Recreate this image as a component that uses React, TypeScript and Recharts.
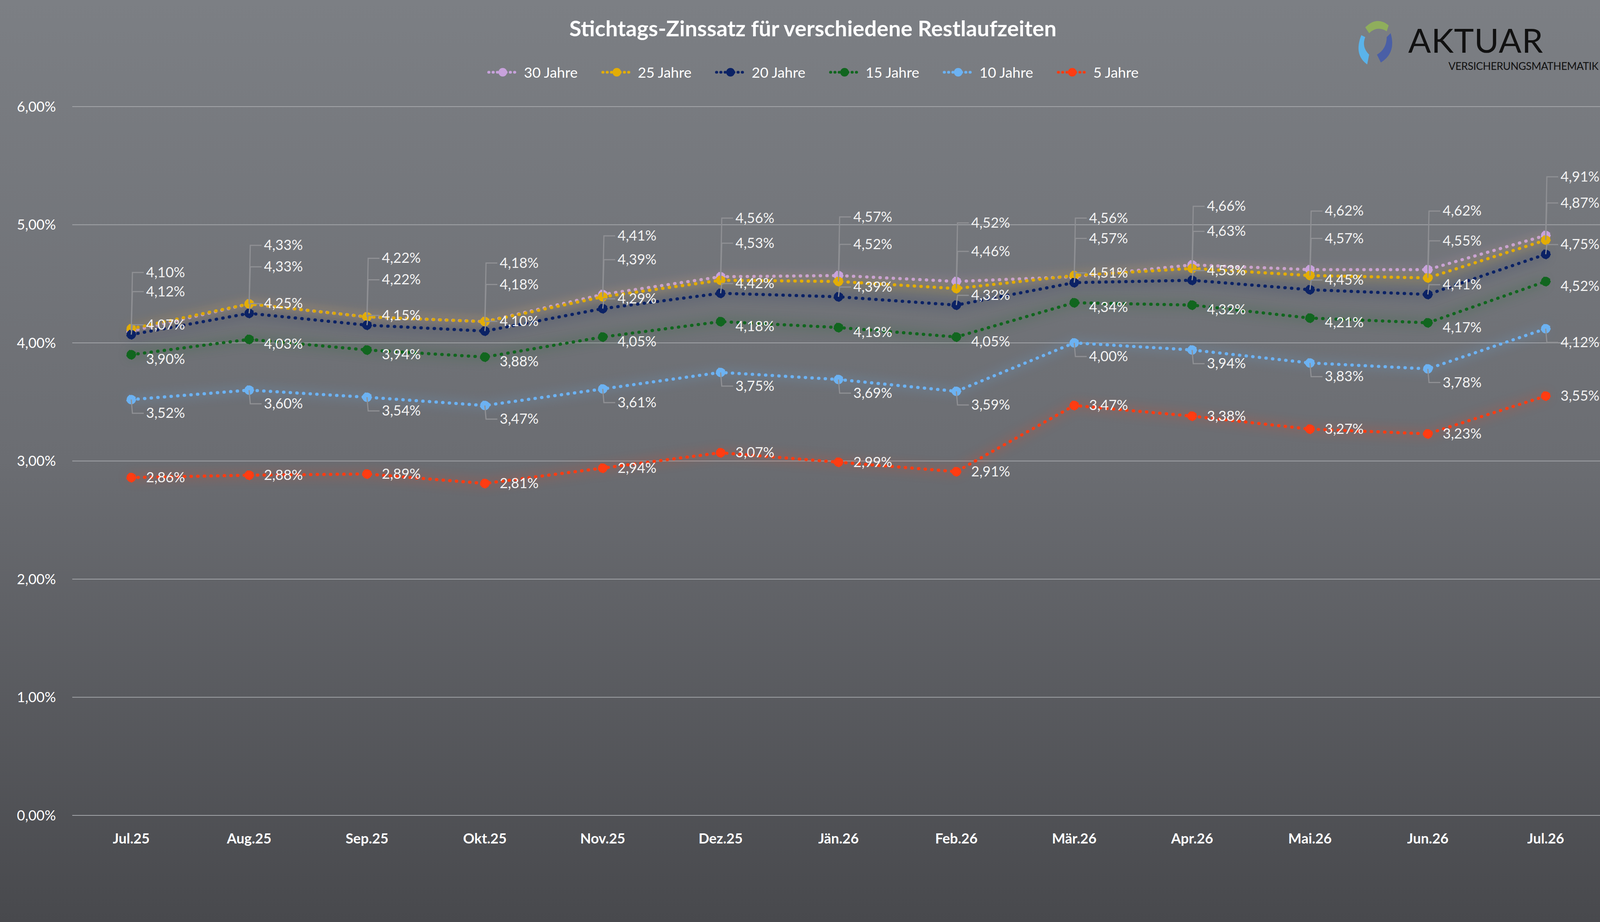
import React from 'react';
import { LineChart, Line, XAxis, YAxis, CartesianGrid } from 'recharts';

const months = ['Jul.25', 'Aug.25', 'Sep.25', 'Okt.25', 'Nov.25', 'Dez.25', 'Jän.26', 'Feb.26', 'Mär.26', 'Apr.26', 'Mai.26', 'Jun.26', 'Jul.26'];
const j30 = [4.10, 4.33, 4.22, 4.18, 4.41, 4.56, 4.57, 4.52, 4.56, 4.66, 4.62, 4.62, 4.91];
const j25 = [4.12, 4.33, 4.22, 4.18, 4.39, 4.53, 4.52, 4.46, 4.57, 4.63, 4.57, 4.55, 4.87];
const j20 = [4.07, 4.25, 4.15, 4.10, 4.29, 4.42, 4.39, 4.32, 4.51, 4.53, 4.45, 4.41, 4.75];
const j15 = [3.90, 4.03, 3.94, 3.88, 4.05, 4.18, 4.13, 4.05, 4.34, 4.32, 4.21, 4.17, 4.52];
const j10 = [3.52, 3.60, 3.54, 3.47, 3.61, 3.75, 3.69, 3.59, 4.00, 3.94, 3.83, 3.78, 4.12];
const j5 = [2.86, 2.88, 2.89, 2.81, 2.94, 3.07, 2.99, 2.91, 3.47, 3.38, 3.27, 3.23, 3.55];
const yTicks = [0, 1, 2, 3, 4, 5, 6];

const series = [
  { key: 'j30', name: '30 Jahre', values: j30, color: '#c8a2dc', dy: -150 },
  { key: 'j25', name: '25 Jahre', values: j25, color: '#e3ad05', dy: -95 },
  { key: 'j20', name: '20 Jahre', values: j20, color: '#0b2265', dy: -25 },
  { key: 'j15', name: '15 Jahre', values: j15, color: '#11661f', dy: 12 },
  { key: 'j10', name: '10 Jahre', values: j10, color: '#6cb2f2', dy: 35 },
  { key: 'j5', name: '5 Jahre', values: j5, color: '#ff3c12', dy: 0 },
];

const data = months.map((m, i) => {
  const row: Record<string, string | number> = { month: m };
  series.forEach((s) => (row[s.key] = s.values[i]));
  return row;
});

const fmt = (v: number) => v.toFixed(2).replace('.', ',') + '%';

const makeLabel = (dy: number) => (props: any) => {
  const { x, y, value } = props;
  const ty = y + dy;
  return (
    <g>
      {Math.abs(dy) > 20 && (
        <polyline points={`${x},${y} ${x + 3},${ty} ${x + 32},${ty}`} fill="none" stroke="#8f9094" strokeWidth={3} />
      )}
      <text x={x + 38} y={ty} dy={12} fill="#f2f2f2" fontSize={36} fontFamily="Lato, sans-serif">
        {fmt(value)}
      </text>
    </g>
  );
};

export default function App() {
  return (
    <div
      style={{
        position: 'relative',
        width: 4162,
        height: 2361,
        overflow: 'hidden',
        background: 'linear-gradient(#7c7f84, #6b6d72 50%, #48494d)',
        fontFamily: 'Lato, sans-serif',
      }}
    >
      <style>
        {'body{margin:0;overflow:hidden}\n' +
          series.map((s) => `.glow-${s.key} path{filter:drop-shadow(0 0 14px ${s.color});}`).join('\n')}
      </style>
      <div style={{ position: 'absolute', top: 38, width: '100%', textAlign: 'center', color: '#fff', fontSize: 56, fontWeight: 700 }}>
        Stichtags-Zinssatz für verschiedene Restlaufzeiten
      </div>
      <div style={{ position: 'absolute', top: 162, width: '100%', display: 'flex', justifyContent: 'center', gap: 60, color: '#fff', fontSize: 37 }}>
        {series.map((s) => (
          <div key={s.key} style={{ display: 'flex', alignItems: 'center', gap: 14 }}>
            <svg width={80} height={30}>
              <line x1={4} y1={15} x2={76} y2={15} stroke={s.color} strokeWidth={7} strokeDasharray="1 10" strokeLinecap="round" />
              <circle cx={40} cy={15} r={11} fill={s.color} />
            </svg>
            {s.name}
          </div>
        ))}
      </div>
      <div style={{ position: 'absolute', left: 3455, top: 40 }}>
        <svg width={130} height={140}>
          <path d="M40 30 Q70 0 100 25 L95 40 Q70 25 50 45 Z" fill="#8fae5c" />
          <path d="M30 50 Q10 100 45 125 L50 100 Q30 80 40 55 Z" fill="#5ab3ea" />
          <path d="M105 45 Q120 95 80 120 L70 100 Q95 85 95 55 Z" fill="#4a5fa6" />
        </svg>
      </div>
      <div style={{ position: 'absolute', left: 3605, top: 50, fontSize: 86, color: '#111', letterSpacing: 1 }}>AKTUAR</div>
      <div style={{ position: 'absolute', left: 3708, top: 152, fontSize: 27, color: '#111', letterSpacing: -0.5 }}>VERSICHERUNGSMATHEMATIK</div>
      <div style={{ position: 'absolute', left: 0, top: 0 }}>
        <LineChart width={4162} height={2361} data={data} margin={{ top: 273, right: 42, bottom: 243, left: 0 }}>
          <CartesianGrid vertical={false} stroke="#a3a5a9" strokeWidth={2} />
          <XAxis
            dataKey="month"
            axisLine={false}
            tickLine={false}
            padding={{ left: 151, right: 163 }}
            tick={{ fill: '#fff', fontSize: 36, fontWeight: 700, fontFamily: 'Lato, sans-serif' }}
            tickMargin={40}
          />
          <YAxis
            domain={[0, 6]}
            ticks={yTicks}
            width={185}
            axisLine={false}
            tickLine={false}
            tickFormatter={(v: number) => fmt(v)}
            tick={{ fill: '#fff', fontSize: 36, fontFamily: 'Lato, sans-serif' }}
            tickMargin={36}
          />
          {series.map((s) => (
            <Line
              key={s.key}
              className={`glow-${s.key}`}
              dataKey={s.key}
              type="linear"
              stroke={s.color}
              strokeWidth={8}
              strokeDasharray="1 16"
              strokeLinecap="round"
              dot={{ r: 12, fill: s.color, stroke: s.color, strokeWidth: 2 }}
              label={makeLabel(s.dy)}
              isAnimationActive={false}
            />
          ))}
        </LineChart>
      </div>
    </div>
  );
}
